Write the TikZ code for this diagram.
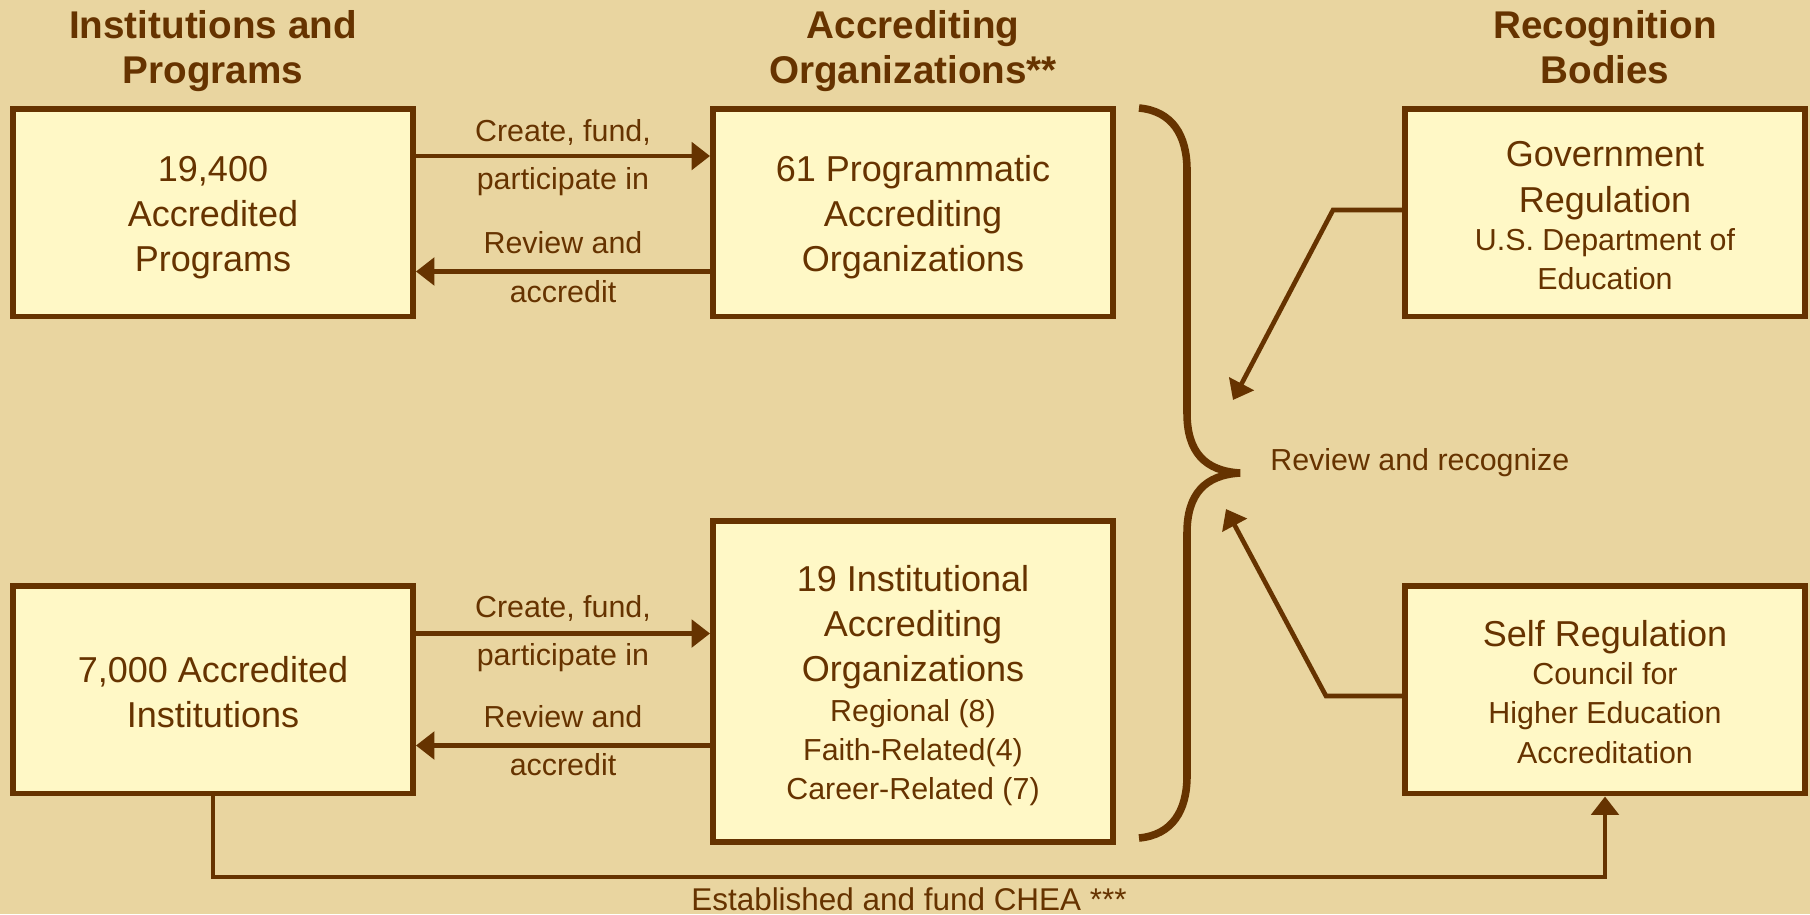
\documentclass[tikz,border=0pt]{standalone}
\usepackage{fontspec}
\setmainfont{Liberation Sans}
\usetikzlibrary{arrows.meta}
\definecolor{bgtan}{RGB}{233,213,160}
\definecolor{boxcream}{RGB}{255,248,198}
\definecolor{darkbrown}{RGB}{102,51,0}
\newcommand{\headfont}{\fontsize{22}{26}\selectfont\bfseries}
\newcommand{\boxfont}{\fontsize{20.5}{25.5}\selectfont}
\newcommand{\smallfont}{\fontsize{17.3}{21}\selectfont}
\newcommand{\capstrut}[1]{\rule{0pt}{#1}}
\begin{document}
\begin{tikzpicture}[x=0.02cm,y=-0.02cm,
  orgbox/.style={draw=darkbrown, fill=boxcream, line width=3.4pt, minimum width=8cm, minimum height=4.16cm, align=center, text=darkbrown, font=\boxfont},
  head/.style={anchor=north, inner sep=0pt, align=center, text=darkbrown, font=\headfont},
  lbl/.style={anchor=base, inner sep=0pt, text=darkbrown, font=\smallfont},
  conn/.style={draw=darkbrown, line width=2.65pt, -{Triangle[length=10.5pt,width=15.5pt]}}]
\fill[bgtan] (0,0) rectangle (1810,914);
\useasboundingbox (0,0) rectangle (1810,914);
\node[head] (hinst) at (213,9.7) {Institutions and\\Programs};
\node[head] (hacc) at (913,9.7) {Accrediting\\Organizations**};
\node[head] (hrec) at (1605,9.7) {Recognition\\Bodies};
\node[orgbox] (prog) at (213,212.5) {\capstrut{20pt}19,400\\Accredited\\Programs};
\node[orgbox] (progacc) at (913,212.5) {\capstrut{20pt}61 Programmatic\\Accrediting\\Organizations};
\node[orgbox] (gov) at (1605,212.5) {\capstrut{17.8pt}Government\\[0.6pt]Regulation\\[-4pt]{\smallfont U.S. Department of}\\[-3.2pt]{\smallfont Education}};
\node[orgbox] (inst) at (213,689.5) {\capstrut{17.6pt}7,000 Accredited\\Institutions};
\node[orgbox, minimum height=6.41cm] (instacc) at (913,681.5) {\capstrut{19.6pt}19 Institutional\\Accrediting\\Organizations\\[-2.8pt]{\smallfont Regional (8)}\\[-3.3pt]{\smallfont Faith-Related(4)}\\[-3.3pt]{\smallfont Career-Related (7)}};
\node[orgbox] (self) at (1605,689.5) {\capstrut{17.6pt}Self Regulation\\[-3.4pt]{\smallfont Council for}\\[-3.3pt]{\smallfont Higher Education}\\[-2.9pt]{\smallfont Accreditation}};
\draw[conn] ([yshift=1.13cm]prog.east) -- node[lbl, yshift=8.2pt] (cf1) {Create, fund,} node[lbl, yshift=-19.2pt] (pi1) {participate in} ([yshift=1.13cm]prog.east -| progacc.west);
\draw[conn] ([yshift=-1.18cm]progacc.west) -- node[lbl, yshift=10.2pt] (ra1) {Review and} node[lbl, yshift=-17.8pt] (ac1) {accredit} ([yshift=-1.18cm]progacc.west -| prog.east);
\draw[conn] ([yshift=1.12cm]inst.east) -- node[lbl, yshift=9.3pt] (cf2) {Create, fund,} node[lbl, yshift=-18.1pt] (pi2) {participate in} ([yshift=1.12cm]inst.east -| instacc.west);
\draw[conn] ([yshift=-1.12cm]inst.east -| instacc.west) -- node[lbl, yshift=10.2pt] (ra2) {Review and} node[lbl, yshift=-16.9pt] (ac2) {accredit} ([yshift=-1.12cm]inst.east);
\draw[darkbrown, line width=4.3pt] (1139,108) .. controls (1172,111) and (1187,135) .. (1187,170) -- (1187,413) .. controls (1187,452) and (1205,471) .. (1240,473) .. controls (1205,475) and (1187,494) .. (1187,533) -- (1187,776) .. controls (1187,811) and (1172,835) .. (1139,838);
\node[lbl, anchor=base west] (recog) at (1270,470) {Review and recognize};
\coordinate (govbend) at (1333,210);
\coordinate (govtip) at (1233,400);
\draw[conn] (gov.west |- govbend) -- (govbend) -- (govtip);
\coordinate (selfbend) at (1326,696);
\coordinate (selftip) at (1226,509);
\draw[conn] (self.west |- selfbend) -- (selfbend) -- (selftip);
\coordinate (fundline) at (0,877);
\draw[conn] (inst.south) |- node[lbl, pos=0.75, yshift=-19.3pt, font=\fontsize{17.9}{21}\selectfont] (chea) {Established and fund CHEA ***} (self.south |- fundline) -- (self.south);
\end{tikzpicture}
\end{document}
